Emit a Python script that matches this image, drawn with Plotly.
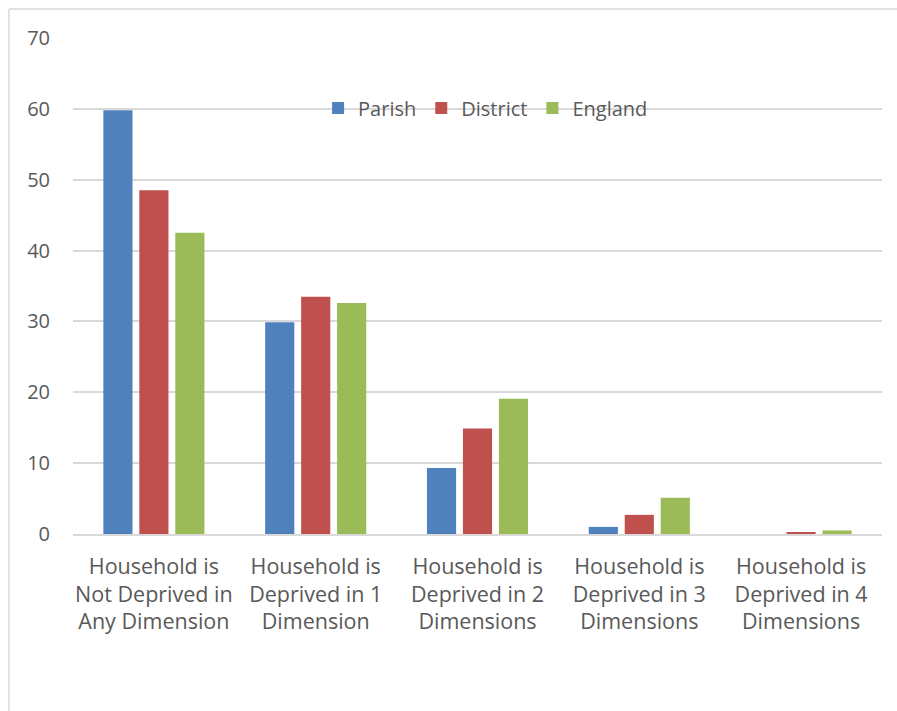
import plotly.graph_objects as go

categories = [
    "Household is<br>Not Deprived in<br>Any Dimension",
    "Household is<br>Deprived in 1<br>Dimension",
    "Household is<br>Deprived in 2<br>Dimensions",
    "Household is<br>Deprived in 3<br>Dimensions",
    "Household is<br>Deprived in 4<br>Dimensions",
]
parish = [59.8, 29.9, 9.3, 1.0, 0.0]
district = [48.5, 33.5, 14.9, 2.7, 0.25]
england = [42.5, 32.6, 19.1, 5.1, 0.5]
series_names = ["Parish", "District", "England"]
colors = ["#4f81bd", "#c0504d", "#9bbb59"]
y_ticks = [0, 10, 20, 30, 40, 50, 60, 70]

fig = go.Figure()
for name, vals, col in zip(series_names, [parish, district, england], colors):
    fig.add_trace(go.Bar(x=categories, y=vals, name=name,
                         marker=dict(color=col, line=dict(width=0))))

font_family = "Open Sans, Noto Sans, sans-serif"
fig.update_layout(
    width=897, height=711,
    margin=dict(l=73, r=15, t=38, b=177),
    paper_bgcolor="white", plot_bgcolor="white",
    barmode="group", bargap=0.333, bargroupgap=0.19,
    font=dict(family=font_family, color="#595959", size=20),
    legend=dict(orientation="h", x=0.51, xanchor="center", y=0.859, yanchor="middle",
                font=dict(size=20, color="#595959"), bgcolor="rgba(0,0,0,0)",
                itemwidth=30, traceorder="normal"),
    xaxis=dict(showgrid=False, showline=True, linecolor="#d9d9d9", linewidth=1.5,
               ticks="", ticklabelstandoff=12, tickfont=dict(size=21.5, color="#595959")),
    yaxis=dict(range=[0, 70], tickvals=y_ticks, showgrid=True, gridcolor="#d9d9d9",
               gridwidth=1.5, zeroline=False, showline=False, ticks="",
               ticklabelstandoff=22, tickfont=dict(size=20, color="#595959")),
    showlegend=True,
)

border = "#d9d9d9"
fig.add_shape(type="line", xref="paper", yref="paper",
              x0=(9 - 73) / 809, x1=(897 - 73) / 809, y0=(534 - 9) / 496, y1=(534 - 9) / 496,
              line=dict(color=border, width=1.5))
fig.add_shape(type="line", xref="paper", yref="paper",
              x0=(9 - 73) / 809, x1=(9 - 73) / 809, y0=(534 - 9) / 496, y1=(534 - 720) / 496,
              line=dict(color=border, width=1.5))

fig.write_html("out.html")
